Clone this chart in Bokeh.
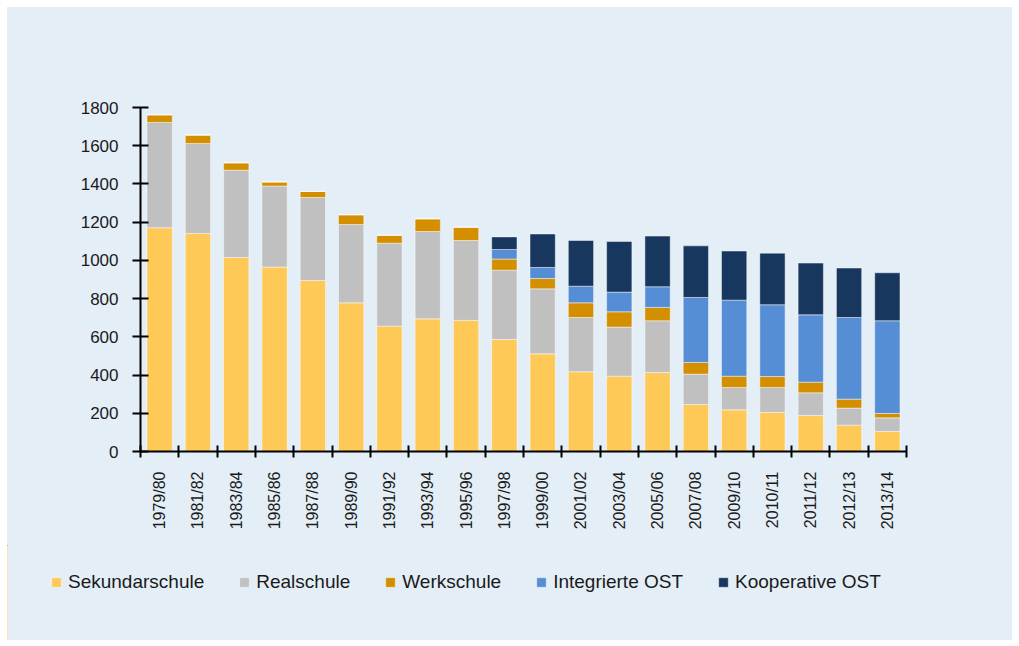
import math
from bokeh.plotting import figure
from bokeh.layouts import column
from bokeh.models import (ColumnDataSource, Range1d, FixedTicker, Legend, LegendItem)
from bokeh.embed import file_html
from bokeh.resources import INLINE

categories = ["1979/80", "1981/82", "1983/84", "1985/86", "1987/88", "1989/90",
              "1991/92", "1993/94", "1995/96", "1997/98", "1999/00", "2001/02",
              "2003/04", "2005/06", "2007/08", "2009/10", "2010/11", "2011/12",
              "2012/13", "2013/14"]
sekundarschule = [1171, 1141, 1015, 965, 895, 778, 656, 694, 686, 586, 511, 417,
                  394, 413, 246, 218, 204, 188, 138, 105]
realschule = [551, 471, 457, 424, 434, 410, 434, 457, 418, 363, 340, 284,
              257, 271, 159, 117, 131, 119, 89, 71]
werkschule = [40, 44, 39, 22, 32, 51, 42, 67, 70, 58, 54, 77,
              80, 70, 61, 59, 57, 56, 47, 23]
integrierte_ost = [0, 0, 0, 0, 0, 0, 0, 0, 0, 50, 58, 87,
                   103, 108, 340, 398, 376, 352, 427, 485]
kooperative_ost = [0, 0, 0, 0, 0, 0, 0, 0, 0, 66, 175, 239,
                   265, 265, 270, 257, 270, 271, 259, 251]
y_ticks = [0, 200, 400, 600, 800, 1000, 1200, 1400, 1600, 1800]

series = ["Sekundarschule", "Realschule", "Werkschule", "Integrierte OST", "Kooperative OST"]
colors = ["#FFC957", "#C0C0C0", "#D48F00", "#558ED5", "#17375E"]

xs = list(range(len(categories)))
source = ColumnDataSource(dict(
    x=xs,
    Sekundarschule=sekundarschule,
    Realschule=realschule,
    Werkschule=werkschule,
    **{"Integrierte OST": integrierte_ost, "Kooperative OST": kooperative_ost},
))

BG = "#E4EEF7"
p = figure(width=1005, height=538, output_backend="svg", toolbar_location=None,
           x_range=Range1d(-0.5, len(categories) - 0.5), y_range=Range1d(0, 1800),
           min_border_left=133, min_border_right=106, min_border_top=100,
           min_border_bottom=94)
p.frame_align = False
p.background_fill_color = BG
p.border_fill_color = BG
p.outline_line_color = None
p.grid.visible = False

p.vbar_stack(series, x="x", width=0.66, source=source, color=colors,
             line_color="white", line_alpha=0.45, line_width=1)

# y axis
ya = p.yaxis[0]
ya.ticker = FixedTicker(ticks=y_ticks)
ya.axis_line_width = 2
ya.axis_line_color = "black"
ya.major_tick_line_width = 2
ya.major_tick_in = 8
ya.major_tick_out = 8
ya.minor_tick_line_color = None
ya.major_label_text_font = "Liberation Sans"
ya.major_label_text_font_size = "17px"
ya.major_label_text_color = "#1a1a1a"
ya.major_label_standoff = 14

# x axis: labels at centres, boundary ticks as minor ticks
xa = p.xaxis[0]
boundaries = [i - 0.5 for i in range(len(categories) + 1)]
xa.ticker = FixedTicker(ticks=xs, minor_ticks=boundaries)
xa.major_label_overrides = {i: c for i, c in zip(xs, categories)}
xa.major_label_orientation = math.pi / 2
xa.axis_line_width = 2
xa.axis_line_color = "black"
xa.major_tick_line_color = None
xa.major_tick_in = 0
xa.major_tick_out = 0
xa.minor_tick_line_color = "black"
xa.minor_tick_line_width = 2
xa.minor_tick_in = 6
xa.minor_tick_out = 6
xa.major_label_standoff = 14
xa.major_label_text_font = "Liberation Sans"
xa.major_label_text_font_size = "16px"
xa.major_label_text_color = "#1a1a1a"

# legend strip (separate figure, its bars fall outside its own x range)
pl = figure(width=1005, height=95, output_backend="svg", toolbar_location=None,
            x_range=Range1d(1000, 1001), y_range=Range1d(0, 1),
            min_border_left=0, min_border_right=0, min_border_top=0,
            min_border_bottom=0)
pl.frame_align = False
pl.background_fill_color = BG
pl.border_fill_color = BG
pl.outline_line_color = None
pl.grid.visible = False
pl.axis.visible = False
leg_renderers = pl.vbar_stack(series, x="x", width=0.66, source=source, color=colors,
                              line_color="white", line_alpha=0.45, line_width=1)

items = [LegendItem(label=s, renderers=[r]) for s, r in zip(series, leg_renderers)]
legend = Legend(items=items, location=(43, 47), orientation="horizontal",
                glyph_width=12, glyph_height=12, label_standoff=6, spacing=34,
                padding=0, margin=0, border_line_color=None,
                background_fill_alpha=0,
                label_text_font="Liberation Sans", label_text_font_size="19px",
                label_text_color="#1a1a1a")
pl.add_layout(legend, "center")

layout = column(p, pl, spacing=0, margin=(7, 0, 0, 7),
                styles={"background-color": BG})
open("out.html", "w").write(file_html(layout, INLINE))
